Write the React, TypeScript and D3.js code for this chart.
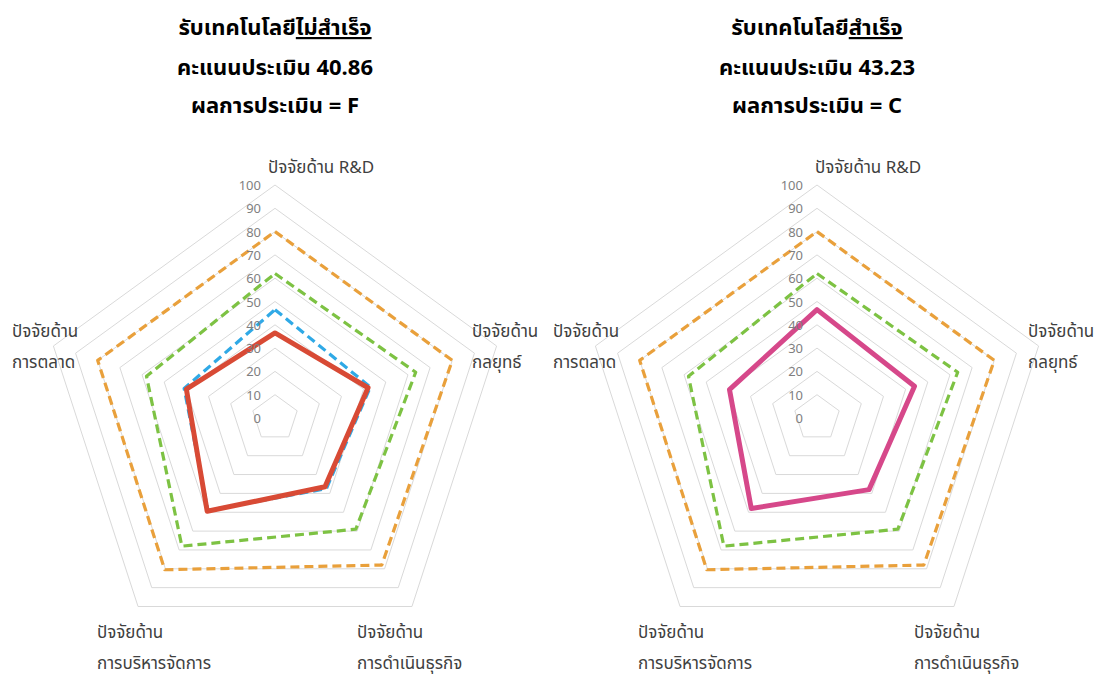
import React from 'react';
import * as d3 from 'd3';

const categories: string[][] = [
  ['ปัจจัยด้าน R&D'],
  ['ปัจจัยด้าน', 'กลยุทธ์'],
  ['ปัจจัยด้าน', 'การดำเนินธุรกิจ'],
  ['ปัจจัยด้าน', 'การบริหารจัดการ'],
  ['ปัจจัยด้าน', 'การตลาด'],
];
const tickValues = [0, 10, 20, 30, 40, 50, 60, 70, 80, 90, 100];

const orangeSeries = [80, 80, 78, 80.5, 80];
const greenSeries = [62, 63.5, 59, 68, 58];
const blueSeries = [46.5, 43, 37.5, 49, 41];
const redSeries = [36.5, 42, 36.5, 49.5, 40];
const pinkSeries = [46.5, 44, 38, 48, 39.5];

const leftTitle = { main: 'รับเทคโนโลยี', under: 'ไม่สำเร็จ', score: 'คะแนนประเมิน 40.86', grade: 'ผลการประเมิน = F' };
const rightTitle = { main: 'รับเทคโนโลยี', under: 'สำเร็จ', score: 'คะแนนประเมิน 43.23', grade: 'ผลการประเมิน = C' };

const FONT = '"Noto Sans Thai", "Noto Sans", "DejaVu Sans", sans-serif';

type Series = { values: number[]; color: string; dashed: boolean };

const leftSeries: Series[] = [
  { values: orangeSeries, color: '#E9A03B', dashed: true },
  { values: greenSeries, color: '#7DC243', dashed: true },
  { values: blueSeries, color: '#2FA9E6', dashed: true },
  { values: redSeries, color: '#D84A35', dashed: false },
];
const rightSeries: Series[] = [
  { values: orangeSeries, color: '#E9A03B', dashed: true },
  { values: greenSeries, color: '#7DC243', dashed: true },
  { values: pinkSeries, color: '#D6488A', dashed: false },
];

function Radar({ cx, cy, series, title, labelX }: { cx: number; cy: number; series: Series[]; title: any; labelX: number[] }) {
  const R = 233;
  const r = d3.scaleLinear().domain([0, 100]).range([0, R]);
  const angle = (i: number) => (i * 2 * Math.PI) / categories.length;
  const line = d3
    .lineRadial<number>()
    .angle((_, i) => angle(i))
    .radius((d) => r(d))
    .curve(d3.curveLinearClosed);
  const ringPath = (v: number) => line(categories.map(() => v)) || '';
  const labelBase = [173, 337, 638, 638, 337];
  return (
    <g>
      <text x={cx} y={35} textAnchor="middle" fontFamily={FONT} fontWeight="bold" fontSize={22} fill="#000">
        {title.main}
        <tspan style={{ textDecoration: 'underline' }}>{title.under}</tspan>
      </text>
      <text x={cx} y={75} textAnchor="middle" fontFamily={FONT} fontWeight="bold" fontSize={22} fill="#000">
        {title.score}
      </text>
      <text x={cx} y={113} textAnchor="middle" fontFamily={FONT} fontWeight="bold" fontSize={22} fill="#000">
        {title.grade}
      </text>
      <g transform={`translate(${cx},${cy})`}>
        {tickValues.slice(1).map((t) => (
          <path key={t} d={ringPath(t)} fill="none" stroke="#D9D9D9" strokeWidth={1} />
        ))}
        {series.map((s, k) => (
          <path
            key={k}
            d={line(s.values) || ''}
            fill="none"
            stroke={s.color}
            strokeWidth={s.dashed ? 3.2 : 5}
            strokeDasharray={s.dashed ? '9 5' : undefined}
            strokeLinejoin="round"
          />
        ))}
        {tickValues.map((t) => (
          <text key={t} x={-14} y={-r(t) + 5} textAnchor="end" fontFamily={FONT} fontSize={13} fill="#7F7F7F">
            {t}
          </text>
        ))}
      </g>
      {categories.map((lines, i) => (
        <text key={i} fontFamily={FONT} fontSize={17} fill="#404040">
          {lines.map((l, j) => (
            <tspan key={j} x={labelX[i]} y={labelBase[i] + j * 31}>
              {l}
            </tspan>
          ))}
        </text>
      ))}
    </g>
  );
}

export default function App() {
  return (
    <svg width={1097} height={677} style={{ position: 'absolute', left: 0, top: 0, background: '#fff' }}>
      <rect width={1097} height={677} fill="#fff" />
      <Radar cx={275} cy={418} series={leftSeries} title={leftTitle} labelX={[268, 472, 357, 97, 12]} />
      <Radar cx={817} cy={418} series={rightSeries} title={rightTitle} labelX={[815, 1028, 914, 638, 553]} />
    </svg>
  );
}
